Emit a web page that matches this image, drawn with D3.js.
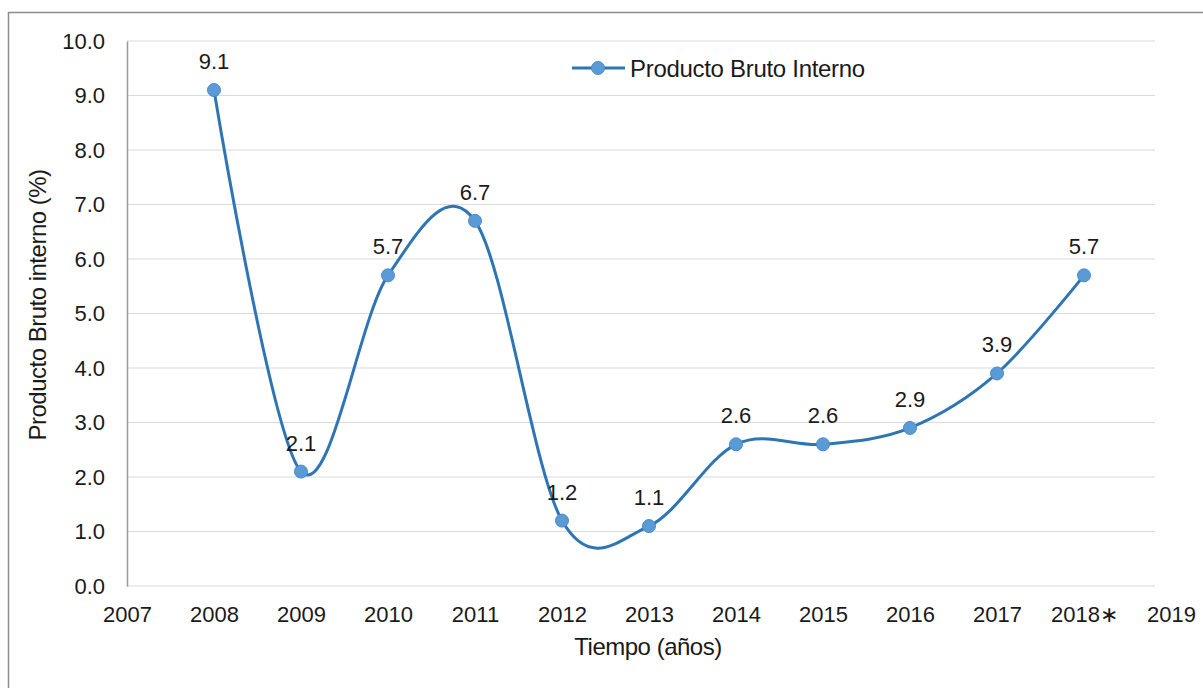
<!DOCTYPE html>
<html>
<head>
<meta charset="utf-8">
<script src="https://cdn.jsdelivr.net/npm/d3@7"></script>
<style>
  body { margin: 0; background: #fff; }
  svg text { font-family: "Liberation Sans", Arial, sans-serif; fill: #1a1a1a; }
</style>
</head>
<body>
<svg id="chart" width="1203" height="688"></svg>
<script>
const years = [2008, 2009, 2010, 2011, 2012, 2013, 2014, 2015, 2016, 2017, 2018];
const values = [9.1, 2.1, 5.7, 6.7, 1.2, 1.1, 2.6, 2.6, 2.9, 3.9, 5.7];
const yTicks = [0, 1, 2, 3, 4, 5, 6, 7, 8, 9, 10];
const xTicks = [2007, 2008, 2009, 2010, 2011, 2012, 2013, 2014, 2015, 2016, 2017, 2018, 2019];
const seriesName = "Producto Bruto Interno";

const data = years.map((y, i) => ({ year: y, value: values[i] }));

const svg = d3.select("#chart");
const x = d3.scaleLinear().domain([2007, 2019]).range([127, 1171]);
const y = d3.scaleLinear().domain([0, 10]).range([586, 41]);

// outer frame
svg.append("rect")
    .attr("x", 8.5).attr("y", 12.5)
    .attr("width", 1210).attr("height", 700)
    .attr("fill", "none").attr("stroke", "#8c8c8c").attr("stroke-width", 1.5);

// gridlines
svg.append("g").selectAll("line")
    .data(yTicks)
    .join("line")
    .attr("x1", 127).attr("x2", 1155)
    .attr("y1", d => y(d)).attr("y2", d => y(d))
    .attr("stroke", "#dadada").attr("stroke-width", 1.2);

// y axis
const yAxis = svg.append("g")
    .attr("transform", "translate(127,0)")
    .call(d3.axisLeft(y).tickValues(yTicks).tickFormat(d3.format(".1f")).tickSize(0).tickPadding(22));
yAxis.select(".domain").attr("stroke", "#9a9a9a").attr("stroke-width", 1.5);
yAxis.selectAll("text").attr("font-size", 22).attr("fill", "#1a1a1a");

// x axis labels
const xAxis = svg.append("g")
    .attr("transform", "translate(0,586)")
    .call(d3.axisBottom(x).tickValues(xTicks).tickFormat(d => d === 2018 ? "2018\u2217" : String(d)).tickSize(0).tickPadding(20));
xAxis.select(".domain").remove();
xAxis.selectAll("text").attr("font-size", 22).attr("fill", "#1a1a1a");

// axis titles
svg.append("text")
    .attr("transform", "translate(46,305) rotate(-90)")
    .attr("text-anchor", "middle")
    .attr("font-size", 24)
    .attr("letter-spacing", -0.5)
    .text("Producto Bruto interno (%)");
svg.append("text")
    .attr("x", 648).attr("y", 655)
    .attr("text-anchor", "middle")
    .attr("font-size", 24)
    .attr("letter-spacing", -0.5)
    .text("Tiempo (años)");

// series line
const line = d3.line()
    .x(d => x(d.year))
    .y(d => y(d.value))
    .curve(d3.curveCardinal.tension(0));
svg.append("path")
    .datum(data)
    .attr("d", line)
    .attr("fill", "none")
    .attr("stroke", "#2e75b6")
    .attr("stroke-width", 3);

svg.append("g").selectAll("circle")
    .data(data)
    .join("circle")
    .attr("cx", d => x(d.year)).attr("cy", d => y(d.value))
    .attr("r", 6.5)
    .attr("fill", "#5b9bd5")
    .attr("stroke", "#4a8ad0").attr("stroke-width", 1);

// data labels
svg.append("g").selectAll("text")
    .data(data)
    .join("text")
    .attr("x", d => x(d.year))
    .attr("y", d => y(d.value) - 21)
    .attr("text-anchor", "middle")
    .attr("font-size", 22)
    .text(d => d3.format(".1f")(d.value));

// legend
const legend = svg.append("g").attr("transform", "translate(572,68)");
legend.append("line").attr("x1", 0).attr("x2", 53).attr("y1", 0).attr("y2", 0)
    .attr("stroke", "#2e75b6").attr("stroke-width", 3);
legend.append("circle").attr("cx", 26).attr("cy", 0).attr("r", 6.5)
    .attr("fill", "#5b9bd5").attr("stroke", "#4a8ad0");
legend.append("text").attr("x", 58).attr("y", 8.5)
    .attr("font-size", 24).attr("letter-spacing", -0.3).text(seriesName);
</script>
</body>
</html>
